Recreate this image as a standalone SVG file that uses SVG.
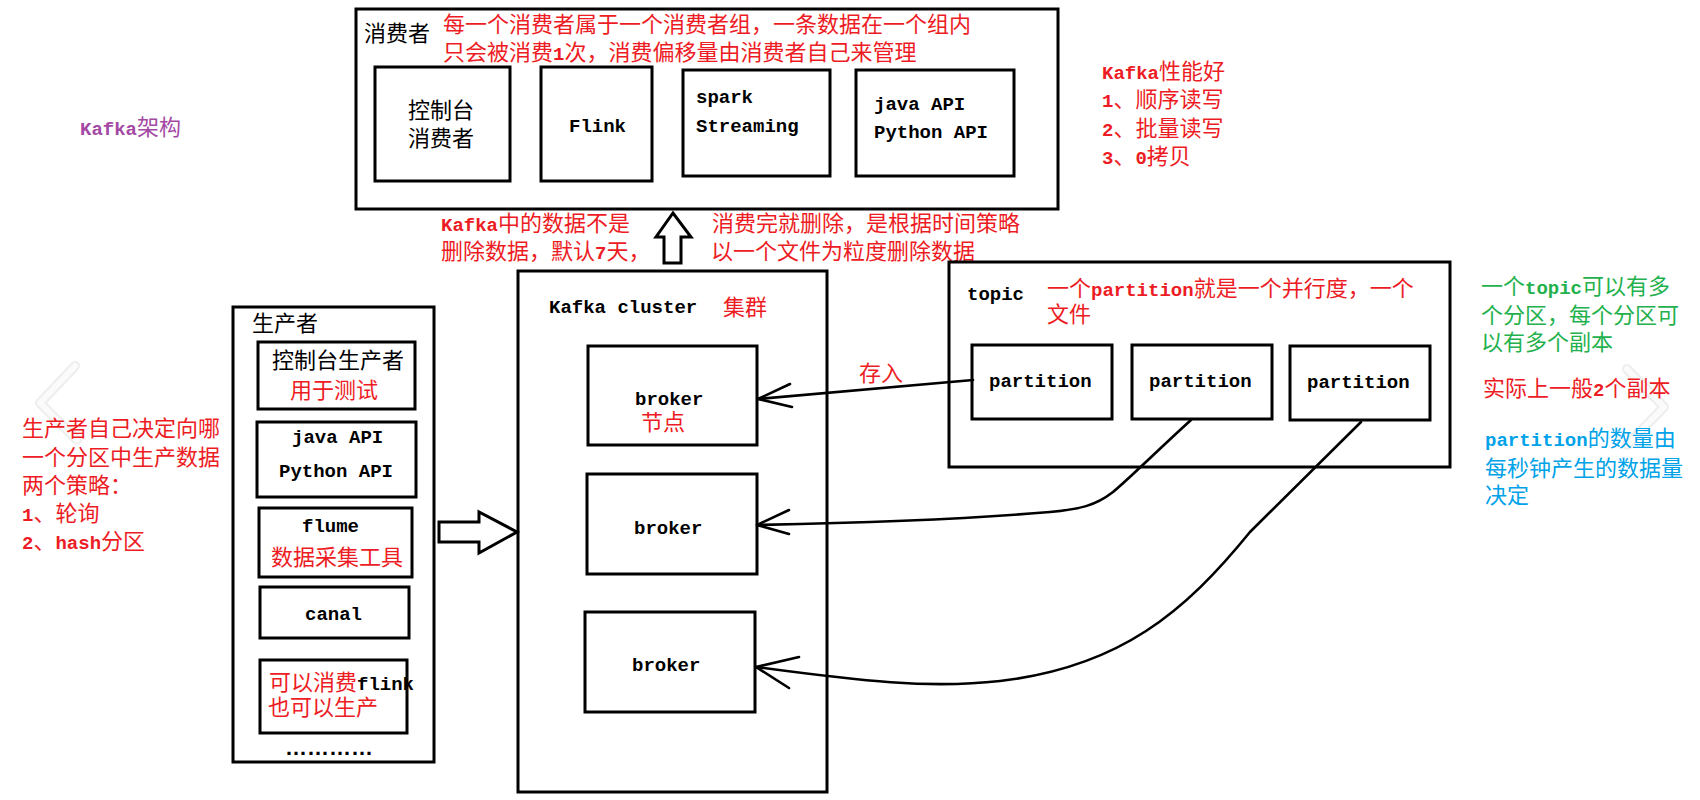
<svg xmlns="http://www.w3.org/2000/svg" width="1700" height="800" viewBox="0 0 1700 800">
<style>
.bg{fill:#fff}
.b{fill:#fff;stroke:#000;stroke-width:3}
.o{fill:none;stroke:#000;stroke-width:3}
.t{font-family:"Liberation Mono","Noto Sans CJK SC",monospace;font-size:22px;fill:#000}
.l{font-family:"Liberation Mono",monospace;font-size:19px;font-weight:bold}
.r{fill:#ED1C24}
.k{fill:#000}
.g{fill:#22B14C}
.u{fill:#00A2E8}
.p{fill:#A349A4}
.c{fill:none;stroke:#000;stroke-width:2.6;stroke-linecap:round;stroke-linejoin:round}
.ch1{fill:none;stroke:#e2e2e2;stroke-width:10;stroke-linecap:round;stroke-linejoin:round;opacity:.6}
.ch2{fill:none;stroke:#fbfbfb;stroke-width:6;stroke-linecap:round;stroke-linejoin:round}
</style>
<rect class="bg" x="0" y="0" width="1700" height="800"/>

<g id="viewer-chevrons">
<polyline class="ch1" points="75,366 40,403 77,440"/>
<polyline class="ch2" points="75,366 40,403 77,440"/>
<polyline class="ch1" points="1627,369 1664,407 1627,445"/>
<polyline class="ch2" points="1627,369 1664,407 1627,445"/>
</g>

<g id="title">
<text class="t p" x="80" y="135"><tspan class="l">Kafka</tspan>架构</text>
</g>

<g id="consumer">
<rect class="b" x="356" y="9" width="702" height="200"/>
<text class="t" x="364" y="41">消费者</text>
<text class="t r" x="443" y="32">每一个消费者属于一个消费者组，一条数据在一个组内</text>
<text class="t r" x="443" y="60">只会被消费<tspan class="l">1</tspan>次，消费偏移量由消费者自己来管理</text>
<g id="consumer-console">
<rect class="b" x="375" y="67" width="135" height="114"/>
<text class="t" x="408" y="118">控制台</text>
<text class="t" x="408" y="146">消费者</text>
</g>
<g id="consumer-flink">
<rect class="b" x="541" y="67" width="111" height="114"/>
<text class="t l" x="569" y="132">Flink</text>
</g>
<g id="consumer-spark">
<rect class="b" x="683" y="70" width="147" height="106"/>
<text class="t l" x="696" y="103">spark</text>
<text class="t l" x="696" y="132">Streaming</text>
</g>
<g id="consumer-api">
<rect class="b" x="856" y="70" width="158" height="106"/>
<text class="t l" x="874" y="110">java API</text>
<text class="t l" x="874" y="138">Python API</text>
</g>
</g>

<g id="perf-note">
<text class="t r" x="1102" y="79"><tspan class="l">Kafka</tspan>性能好</text>
<text class="t r" x="1102" y="107"><tspan class="l">1</tspan>、顺序读写</text>
<text class="t r" x="1102" y="136"><tspan class="l">2</tspan>、批量读写</text>
<text class="t r" x="1102" y="164"><tspan class="l">3</tspan>、<tspan class="l">0</tspan>拷贝</text>
</g>

<g id="retention-note">
<text class="t r" x="441" y="231"><tspan class="l">Kafka</tspan>中的数据不是</text>
<text class="t r" x="441" y="259">删除数据，默认<tspan class="l">7</tspan>天，</text>
<text class="t r" x="712" y="231">消费完就删除，是根据时间策略</text>
<text class="t r" x="711" y="259">以一个文件为粒度删除数据</text>
</g>

<g id="producer">
<rect class="b" x="233" y="307" width="201" height="455"/>
<text class="t" x="252" y="331">生产者</text>
<g id="producer-console">
<rect class="b" x="258" y="342" width="157" height="67"/>
<text class="t" x="272" y="368">控制台生产者</text>
<text class="t r" x="290" y="398">用于测试</text>
</g>
<g id="producer-api">
<rect class="b" x="257" y="422" width="159" height="75"/>
<text class="t l" x="292" y="443">java API</text>
<text class="t l" x="279" y="477">Python API</text>
</g>
<g id="producer-flume">
<rect class="b" x="259" y="508" width="153" height="69"/>
<text class="t l" x="302" y="532">flume</text>
<text class="t r" x="271" y="565">数据采集工具</text>
</g>
<g id="producer-canal">
<rect class="b" x="260" y="587" width="149" height="51"/>
<text class="t l" x="305" y="620">canal</text>
</g>
<g id="producer-flink">
<rect class="b" x="260" y="660" width="147" height="73"/>
<text class="t r" x="269" y="690">可以消费<tspan class="l k">flink</tspan></text>
<text class="t r" x="268" y="715">也可以生产</text>
</g>
<text x="285" y="755" style="font-family:'Liberation Sans',sans-serif;font-size:22px;font-weight:bold">…………</text>
</g>

<g id="producer-note">
<text class="t r" x="22" y="436">生产者自己决定向哪</text>
<text class="t r" x="22" y="465">一个分区中生产数据</text>
<text class="t r" x="22" y="493">两个策略：</text>
<text class="t r" x="22" y="521"><tspan class="l">1</tspan>、轮询</text>
<text class="t r" x="22" y="549"><tspan class="l">2</tspan>、<tspan class="l">hash</tspan>分区</text>
</g>

<g id="cluster">
<rect class="b" x="518" y="271" width="309" height="521"/>
<text class="t l" x="549" y="313">Kafka cluster</text>
<text class="t r" x="723" y="315">集群</text>
<g id="broker1">
<rect class="b" x="588" y="346" width="169" height="99"/>
<text class="t l" x="635" y="405">broker</text>
<text class="t r" x="641" y="430">节点</text>
</g>
<g id="broker2">
<rect class="b" x="587" y="474" width="170" height="100"/>
<text class="t l" x="634" y="534">broker</text>
</g>
<g id="broker3">
<rect class="b" x="585" y="612" width="170" height="100"/>
<text class="t l" x="632" y="671">broker</text>
</g>
</g>

<g id="topic">
<rect class="b" x="949" y="262" width="501" height="205"/>
<text class="t l" x="967" y="300">topic</text>
<text class="t r" x="1047" y="296">一个<tspan class="l">partition</tspan>就是一个并行度，一个</text>
<text class="t r" x="1047" y="322">文件</text>
<g id="partition1">
<rect class="b" x="972" y="345" width="140" height="74"/>
<text class="t l" x="989" y="387">partition</text>
</g>
<g id="partition2">
<rect class="b" x="1132" y="345" width="140" height="74"/>
<text class="t l" x="1149" y="387">partition</text>
</g>
<g id="partition3">
<rect class="b" x="1290" y="346" width="140" height="74"/>
<text class="t l" x="1307" y="388">partition</text>
</g>
</g>

<g id="replica-notes">
<text class="t g" x="1481" y="294">一个<tspan class="l">topic</tspan>可以有多</text>
<text class="t g" x="1481" y="323">个分区，每个分区可</text>
<text class="t g" x="1481" y="350">以有多个副本</text>
<text class="t r" x="1483" y="396">实际上一般<tspan class="l">2</tspan>个副本</text>
<text class="t u" x="1485" y="446"><tspan class="l">partition</tspan>的数量由</text>
<text class="t u" x="1485" y="476">每秒钟产生的数据量</text>
<text class="t u" x="1485" y="503">决定</text>
</g>

<g id="connectors">
<polygon class="b" points="664,263 664,237 656,237 673,213 691,237 681,237 681,263"/>
<polygon class="b" points="439,522 479,522 479,512 517,532 479,553 479,542 439,542"/>
<path class="c" d="M973,380 L758,399"/>
<polyline class="c" points="790,384 758,399 792,407"/>
<text class="t r" x="859" y="381">存入</text>
<path class="c" d="M1191,420 C1160,448 1130,478 1113,492 C1095,506 1080,509 1050,512 C980,518 860,523 757,525"/>
<polyline class="c" points="789,510 757,525 789,534"/>
<path class="c" d="M1361,422 L1250,532 C1185,612 1120,667 1000,681 C930,689 860,681 756,667"/>
<polyline class="c" points="799,657 756,667 789,688"/>
</g>
</svg>
